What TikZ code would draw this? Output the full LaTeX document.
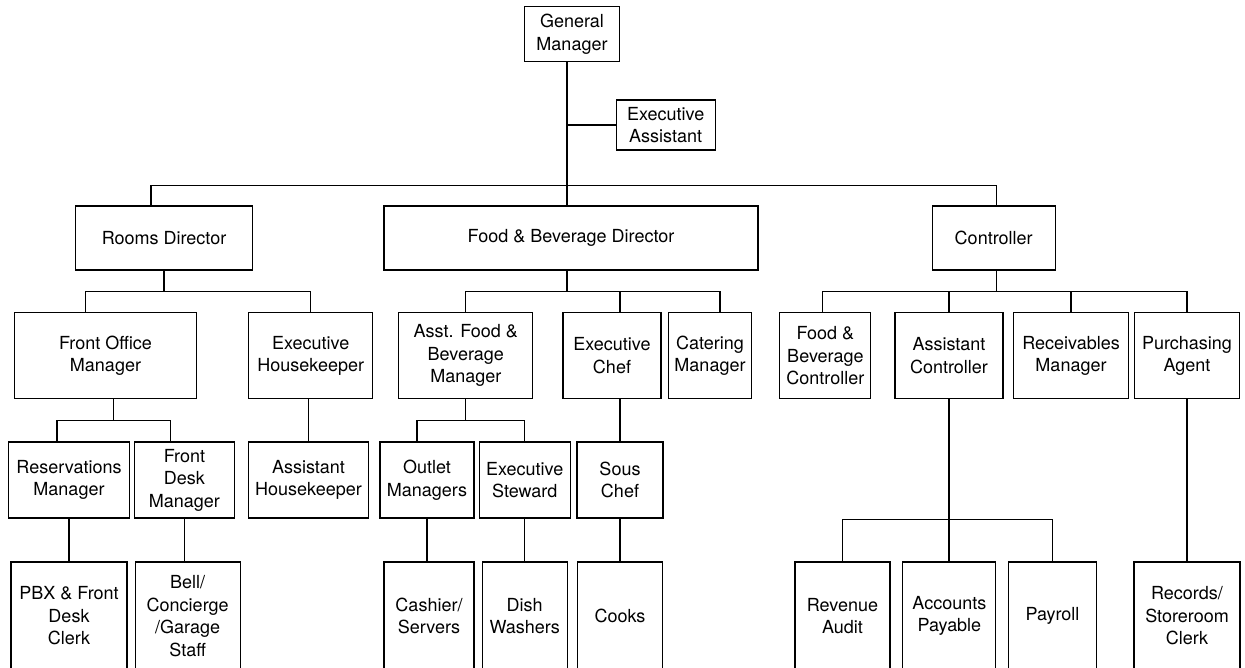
\documentclass[tikz,border=0pt]{standalone}
\usepackage{fontspec}
\setmainfont{TeX Gyre Heros}
\usepackage{tikz}
\usetikzlibrary{positioning}

\begin{document}
\begin{tikzpicture}[x=1pt, y=-1pt, line width=1.1pt,
    box/.style={draw, align=center, inner xsep=2pt, inner ysep=0pt,
                font=\fontsize{18}{22.5}\selectfont},
    dirbox/.style={box, minimum height=64pt},
    mgrbox/.style={box, minimum height=86pt},
    subbox/.style={box, minimum height=76pt},
    staffbox/.style={box, minimum height=108pt}]
                        \useasboundingbox (0, 0) rectangle (1245, 667);
                        \clip (0, 0) rectangle (1245, 667);
                        \node[box, minimum width=95pt, minimum height=55pt] (gm) at (572, 34) {General\\Manager};
                        \node[box, minimum width=99pt, minimum height=50pt] (ea) at (665.7, 125) {Executive\\Assistant};
                        \node[dirbox, minimum width=177pt] (rd) at (164, 238) {Rooms Director};
                        \node[dirbox, minimum width=374pt] (fbd) at (571, 238) {Food \& Beverage Director};
                        \node[dirbox, minimum width=123pt] (ctrl) at (993.7, 238) {Controller};
                        \node[mgrbox, minimum width=182.5pt] (fom) at (105.5, 355.7) {Front Office\\Manager};
                        \node[mgrbox, minimum width=124pt] (eh) at (310.8, 355.7) {Executive\\Housekeeper};
                        \node[mgrbox, minimum width=134pt] (afb) at (465.8, 355.7) {Asst. Food \&\\Beverage\\Manager};
                        \node[mgrbox, minimum width=98pt] (chef) at (612, 355.7) {Executive\\Chef};
                        \node[mgrbox, minimum width=83pt] (cat) at (710, 355.7) {Catering\\Manager};
                        \node[mgrbox, minimum width=91pt] (fbc) at (825.4, 355.7) {Food \&\\Beverage\\Controller};
                        \node[mgrbox, minimum width=108pt] (ac) at (949, 355.7) {Assistant\\Controller};
                        \node[mgrbox, minimum width=115pt] (rcv) at (1071, 355.7) {Receivables\\Manager};
                        \node[mgrbox, minimum width=105pt] (pur) at (1187, 355.7) {Purchasing\\Agent};
                        \node[subbox, minimum width=120.6pt] (res) at (69, 480) {Reservations\\Manager};
                        \node[subbox, minimum width=99.3pt] (fdm) at (184.4, 480) {Front\\Desk\\Manager};
                        \node[subbox, minimum width=119.6pt] (ahk) at (308.5, 480) {Assistant\\Housekeeper};
                        \node[subbox, minimum width=94pt] (olt) at (427, 480) {Outlet\\Managers};
                        \node[subbox, minimum width=91pt] (stw) at (524.8, 480) {Executive\\Steward};
                        \node[subbox, minimum width=86pt] (sous) at (620, 480) {Sous\\Chef};
                        \node[staffbox, minimum width=116pt] (pbx) at (69, 616) {PBX \& Front\\Desk\\Clerk};
                        \node[staffbox, minimum width=105pt] (bell) at (187.7, 616) {Bell/\\Concierge\\/Garage\\Staff};
                        \node[staffbox, minimum width=90pt] (csh) at (429, 616) {Cashier/\\Servers};
                        \node[staffbox, minimum width=85pt] (dish) at (524.7, 616) {Dish\\Washers};
                        \node[staffbox, minimum width=85pt] (cook) at (620, 616) {Cooks};
                        \node[staffbox, minimum width=95pt] (rev) at (842.5, 616) {Revenue\\Audit};
                        \node[staffbox, minimum width=93pt] (ap) at (949.4, 616) {Accounts\\Payable};
                        \node[staffbox, minimum width=88pt] (pay) at (1052.5, 616) {Payroll};
                        \node[staffbox, minimum width=106pt] (rec) at (1187, 616) {Records/\\Storeroom\\Clerk};
                        \draw
                        ([xshift=-5pt]gm.south) -- ([xshift=-4pt]fbd.north)
                        (ea.west) -- ++(-49, 0)
                        ([xshift=-13pt]rd.north) -- ++(0, -20) -| ([xshift=3pt]ctrl.north)
                        (rd.south) -- ++(0, 21)
                        ([xshift=-20pt]fom.north) -- ++(0, -21) -| (eh.north)
                        ([xshift=-4pt]fbd.south) -- ++(0, 21)
                        (afb.north) -- ++(0, -21) -| ([xshift=10pt]cat.north)
                        ([xshift=8pt]chef.north) -- ++(0, -21)
                        ([xshift=3pt]ctrl.south) -- ++(0, 21)
                        ([xshift=-3pt]fbc.north) -- ++(0, -21) -| (pur.north)
                        (ac.north) -- ++(0, -21)
                        (rcv.north) -- ++(0, -21)
                        ([xshift=8pt]fom.south) -- ++(0, 22)
                        ([xshift=-12pt]res.north) -- ++(0, -21) -| ([xshift=-14pt]fdm.north)
                        (ahk.north) -- (ahk.north |- eh.south)
                        (afb.south) -- ++(0, 22)
                        ([xshift=-10pt]olt.north) -- ++(0, -21) -| (stw.north)
                        (sous.north) -- (sous.north |- chef.south)
                        (ac.south) -- (ac.south |- ap.north)
                        (rev.north) -- ++(0, -42) -| (pay.north)
                        (pur.south) -- (pur.south |- rec.north)
                        (pbx.north) -- (pbx.north |- res.south)
                        (fdm.south) -- (fdm.south |- bell.north)
                        (olt.south) -- (olt.south |- csh.north)
                        (stw.south) -- (stw.south |- dish.north)
                        (sous.south) -- (cook.north);
                    \end{tikzpicture}
\end{document}
